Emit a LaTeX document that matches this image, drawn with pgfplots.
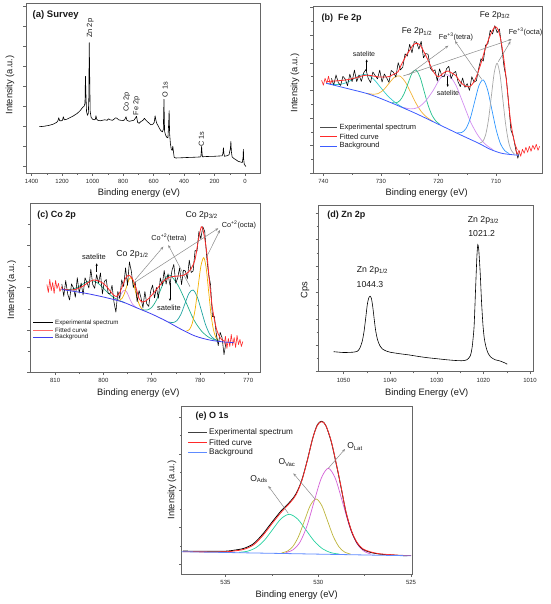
\documentclass[border=0pt]{standalone}
\usepackage{pgfplots}
\pgfplotsset{compat=1.18}
\usepackage{fontspec}
\setmainfont{Liberation Sans}
\setsansfont{Liberation Sans}
\usetikzlibrary{arrows.meta}
\definecolor{frm}{HTML}{666666}
\definecolor{fitred}{HTML}{FF2A2A}
\definecolor{bgB}{HTML}{3D5CFF}
\definecolor{cyanB}{HTML}{30CCCC}
\definecolor{orangeB}{HTML}{F2B234}
\definecolor{greenB}{HTML}{22C08C}
\definecolor{violetB}{HTML}{D28EF0}
\definecolor{blueB}{HTML}{2E96FF}
\definecolor{grayB}{HTML}{A8A8A8}
\definecolor{bgC}{HTML}{3F3FF0}
\definecolor{tealC}{HTML}{22B08E}
\definecolor{tealD}{HTML}{1FA3A0}
\definecolor{orangeC}{HTML}{F4B000}
\definecolor{violetC}{HTML}{D58FE6}
\definecolor{bgE}{HTML}{5E8BFF}
\definecolor{greenE}{HTML}{26D2A0}
\definecolor{oliveE}{HTML}{BDB43A}
\definecolor{magE}{HTML}{D45FD6}
\definecolor{arrowgray}{HTML}{8A8A8A}
\newcommand\fs[1]{\fontsize{#1}{#1}\selectfont}
\pgfplotsset{
 panel/.style={
  scale only axis, x dir=reverse, ymin=0,
  axis line style={frm,line width=0.6pt},
  tick style={frm,line width=0.45pt},
  tick pos=left, tick align=outside,
  major tick length=2.6pt, minor tick length=1.6pt,
  yticklabels={},
  tick label style={font=\fs{6}, text=black!85},
  /pgf/number format/assume math mode=true,
  /pgf/number format/1000 sep={},
 },
 comp/.style={line width=0.7pt, smooth},
}
\begin{document}
\begin{tikzpicture}
\useasboundingbox (0pt,0pt) rectangle (550pt,604pt);
% ---------------- (a) Survey ----------------
\begin{axis}[panel, at={(26pt,430.7pt)}, anchor=south west, width=234pt, height=170pt,
  xmin=-98, xmax=1437, ymax=170, xtick={0,200,...,1400}, minor x tick num=1,
  ytick={7.3,27.3,...,167.3}]
\addplot[black, line width=0.6pt, line join=round] coordinates {
(1350,46.6) (1320,47) (1290,47.8) (1260,49) (1235,51) (1228,52.5) (1222,55.5) (1216,52.5) (1205,52.5) (1198,53) (1192,56.5) (1186,53.5) (1170,54) (1150,55.5) (1125,57.5) (1100,60) (1080,63) (1065,66) (1056,67) (1050,70) (1047,97) (1044,80) (1040,62) (1034,58) (1028,60) (1025,75) (1022,130.7) (1019,95) (1016,62) (1010,56) (1000,54) (990,53.5) (982,54) (978,57.5) (973,54) (965,53) (950,52.5) (935,53) (920,53.5) (905,53) (895,54.5) (885,53.5) (870,53) (860,54) (850,55.5) (840,55) (830,53.5) (815,53) (800,52.8) (790,53.5) (781,56.5) (775,53) (760,52) (745,52.5) (730,53) (720,55) (712,57) (705,51) (695,50) (685,51.5) (670,53) (660,55) (650,53) (640,51.5) (628,50) (618,48.5) (605,49) (596,51) (590,57.5) (585,53) (578,49.5) (570,47.5) (562,45) (552,42.5) (542,41.5) (536,44) (532,74) (528,42) (522,38.5) (514,36) (506,35.5) (501,50) (498,62.6) (495,40) (490,30) (484,24) (478,23) (474,27) (470,22) (465,16) (455,15.3) (420,15.5) (380,15.8) (340,16) (300,16.3) (290,16.5) (287,22) (285,27) (283,22) (280,16.5) (250,16.8) (200,17) (170,17.3) (150,17.5) (145,20) (142,25.5) (139,20) (135,17) (120,17.5) (105,18.5) (96,25) (93,32) (90,22) (85,16.5) (75,15) (60,13.5) (45,12) (30,11.3) (18,10.8) (13,16) (11,24) (9,14) (5,9) (0,8) (-5,6.8)};
\end{axis}
% ---------------- (b) Fe 2p ----------------
\begin{axis}[panel, at={(313pt,430.7pt)}, anchor=south west, width=229pt, height=166.6pt,
  xmin=702, xmax=741.8, ymax=166.6, xtick={710,720,730,740}, minor x tick num=1,
  ytick={0,27.6,...,165.6}, minor y tick num=1]
\addplot[comp, cyanB] coordinates {(739.3,89.9) (738.15,88.9) (737.0,89.0) (735.85,91.0) (734.7,94.5) (733.55,98.1) (732.4,98.6) (731.25,94.1) (730.1,86.2) (728.95,78.3) (727.8,72.1) (726.65,67.4) (725.5,63.95)};
\addplot[comp, orangeB] coordinates {(732.4,79.9) (731.45,79.1) (730.5,79.7) (729.55,83.4) (728.6,89.85) (727.65,96.0) (726.7,97.25) (725.75,91.3) (724.8,80.5) (723.85,69.5) (722.9,61.1) (721.95,55.7) (721.0,52.05)};
\addplot[comp, greenB] coordinates {(728.1,70.7) (727.4,70.4) (726.7,72.65) (726.0,79.2) (725.3,89.65) (724.6,100.0) (723.9,103.3) (723.2,96.3) (722.5,82.3) (721.8,68.15) (721.1,57.9) (720.4,52.0) (719.7,48.7)};
\addplot[comp, violetB] coordinates {(726.1,65.85) (724.8,64.4) (723.5,65.9) (722.2,72.55) (720.9,83.0) (719.6,95.6) (718.3,98.3) (717.0,88.45) (715.7,69.95) (714.4,51.2) (713.1,37.6) (711.8,28.8) (710.5,23.6)};
\addplot[comp, blueB] coordinates {(716.7,40.6) (715.95,40.8) (715.2,44.8) (714.45,55.2) (713.7,71.75) (712.95,87.85) (712.2,93.3) (711.45,83.35) (710.7,63.25) (709.95,43.2) (709.2,29.3) (708.45,22.5) (707.7,19.7)};
\addplot[comp, grayB] coordinates {(712.8,30.4) (712.3,31.8) (711.8,38.4) (711.3,53.6) (710.8,77.2) (710.3,100.6) (709.8,110.0) (709.3,98.6) (708.8,73.45) (708.3,48.2) (707.8,31.1) (707.3,22.6) (706.8,19.4)};
\addplot[black, line width=0.55pt, line join=round] coordinates {
(738.6,95.0) (738.2,88.1) (737.8,98.3) (737.4,90.6) (737.0,87.8) (736.6,97.0) (736.2,94.2) (735.8,87.6) (735.4,99.1) (735.0,91.6) (734.6,103.2) (734.2,91.7) (733.8,98.3) (733.4,91.9) (733.0,100.5) (732.6,103.8) (732.2,94.9) (731.8,90.7) (731.4,101.3) (731.0,97.8) (730.6,94.4) (730.2,103.1) (729.8,91.2) (729.4,99.3) (729.0,95.4) (728.6,91.0) (728.2,102.8) (727.8,101.0) (727.4,96.2) (727.0,110.6) (726.6,103.4) (726.2,106.1) (725.8,119.4) (725.4,117.2) (725.0,129.0) (724.6,120.5) (724.2,131.6) (723.8,131.0) (723.4,124.1) (723.0,132.0) (722.6,115.4) (722.2,119.8) (721.8,119.0) (721.4,105.0) (721.0,102.0) (720.6,103.5) (720.2,92.3) (719.8,104.4) (719.4,97.1) (719.0,96.5) (718.6,104.5) (718.2,107.0) (717.8,94.6) (717.4,100.2) (717.0,101.8) (716.6,91.7) (716.2,86.6) (715.8,95.3) (715.4,86.0) (715.0,89.6) (714.6,82.9) (714.2,96.6) (713.8,91.2) (713.4,92.6) (713.0,105.0) (712.6,114.6) (712.2,112.2) (711.8,128.2) (711.4,129.6) (711.0,143.0) (710.6,139.3) (710.2,147.6) (709.8,140.6) (709.4,144.3) (709.0,126.3) (708.6,106.6) (708.2,94.6) (707.8,70) (707.4,43.2) (707.0,37) (706.6,25) (706.2,15) (705.9,22)};
\addplot[fitred, line width=0.6pt, line join=round] coordinates {(740.3,93) (740.0,88) (739.7,95) (739.4,90) (739.1,97) (738.8,89) (738.5,93)};
\addplot[fitred, line width=0.6pt, line join=round] coordinates {(706.6,24) (706.3,19) (706.0,23) (705.7,17) (705.4,24) (705.1,20) (704.8,26) (704.5,21) (704.2,27) (703.9,22) (703.6,28) (703.3,24) (703.0,29) (702.7,23) (702.4,27)};
\addplot[fitred, line width=0.8pt, smooth] coordinates {(739.3,91.8) (738.5,92.1) (737.5,92.5) (736.5,93.1) (735.5,93.9) (734.5,95.3) (733.5,97) (732.5,98.1) (731.5,97.5) (730.5,96.4) (729.5,96.2) (728.5,96.8) (727.8,99) (727,101.6) (726.5,108) (726,113.5) (725.5,119) (725,123) (724.4,128.3) (723.8,130) (723.2,128.3) (722.6,122.4) (722,115.5) (721.4,108) (721,103) (720.5,98.5) (720,96.6) (719.6,97.8) (719.2,100) (718.7,101.8) (718.3,102.3) (717.7,100.3) (717,97.8) (716.5,93.8) (716,90) (715.5,87.8) (715,86.6) (714.6,86.6) (714.2,88.5) (713.8,91.8) (713.4,96.8) (713,103) (712.5,112) (712,122) (711.5,130.5) (711,138) (710.6,142.8) (710.2,146.6) (709.9,146) (709.6,143.3) (709.3,137) (709,128.3) (708.7,117) (708.4,103.3) (708.1,88) (707.8,70) (707.5,54) (707.2,43) (706.9,34) (706.6,27.5) (706.3,23.5)};
\addplot[bgB, line width=0.8pt, smooth] coordinates {(739.5,90) (736,85) (732,79) (728,70) (724,60) (720,49) (716,38) (713,30) (711,24) (709,20) (707,18.5) (706,18)};
\end{axis}
% ---------------- (c) Co 2p ----------------
\begin{axis}[panel, at={(30pt,231.5pt)}, anchor=south west, width=230.7pt, height=169.2pt,
  xmin=767.4, xmax=815.2, ymax=169.2, xtick={770,780,...,810}, minor x tick num=1,
  ytick={0,42.4,...,169}, minor y tick num=1]
\addplot[comp, tealC] coordinates {(808.7,83.3) (807.6,82.9) (806.5,83.3) (805.4,85.1) (804.3,88.2) (803.2,91.1) (802.1,91.6) (801.0,88.9) (799.9,83.9) (798.8,78.5) (797.7,74.5) (796.6,71.85) (795.5,69.7)};
\addplot[comp, violetC] coordinates {(797.9,73.0) (797.5,73.0) (797.1,73.6) (796.7,75.6) (796.3,78.7) (795.9,81.6) (795.5,82.3) (795.1,80.0) (794.7,75.7) (794.3,71.3) (793.9,68.0) (793.5,66.1) (793.1,64.8)};
\addplot[comp, orangeC] coordinates {(797.0,72.1) (796.55,72.4) (796.1,74.35) (795.65,78.8) (795.2,85.7) (794.75,92.4) (794.3,94.8) (793.85,90.6) (793.4,82.1) (792.95,73.4) (792.5,67.25) (792.05,63.8) (791.6,62.0)};
\addplot[comp, tealC] coordinates {(791.9,62.8) (790.95,62.5) (790.0,65.0) (789.05,71.9) (788.1,83.2) (787.15,94.25) (786.2,97.4) (784.55,87.4) (782.9,70.4) (781.25,52.7) (779.6,41.1) (777.95,34.6) (776.3,31.9)};
\addplot[comp, tealD] coordinates {(786.5,50.6) (785.65,49.9) (784.8,51.7) (783.95,58.0) (783.1,68.75) (782.25,79.2) (781.4,82.5) (780.55,75.7) (779.7,62.15) (778.85,48.2) (778.0,38.6) (777.15,33.9) (776.3,31.9)};
\addplot[comp, orangeC] coordinates {(782.8,41.6) (782.2,42.8) (781.6,48.8) (781.0,62.7) (780.4,84.6) (779.8,106.1) (779.2,114.8) (778.7,104.6) (778.2,81.7) (777.7,58.5) (777.2,42.9) (776.7,35.1) (776.2,32.2)};
\addplot[black, line width=0.55pt, line join=round] coordinates {
(808.6,88.5) (808.2,76.2) (807.8,92.0) (807.4,78.7) (807.0,72.5) (806.6,88.6) (806.2,84.7) (805.8,75.2) (805.4,94.8) (805.0,79.5) (804.6,89.5) (804.2,77.5) (803.8,94.7) (803.4,90.1) (803.0,84.5) (802.6,103.3) (802.2,88.1) (801.8,84.2) (801.4,97.9) (801.0,89.5) (800.6,99.5) (800.2,78.5) (799.8,91) (799.4,93) (799.0,79) (798.6,78.6) (798.2,87.2) (797.8,70.4) (797.4,60.3) (797.0,81.1) (796.6,74) (796.2,92.7) (795.8,86) (795.4,104.7) (795.0,87.2) (794.6,110.7) (794.2,101.1) (793.8,85) (793.4,90.7) (793.0,70.7) (792.6,82) (792.2,74.7) (791.8,64.7) (791.4,81) (791.0,68.6) (790.6,66.1) (790.2,81.3) (789.8,87.4) (789.4,74.6) (789.0,85) (788.6,74.2) (788.2,94.6) (787.8,86.9) (787.4,102.1) (787.0,88.3) (786.6,98.7) (786.2,87.3) (785.8,101.7) (785.4,108.1) (785.0,89.3) (784.6,94.5) (784.2,104.7) (783.8,87.9) (783.4,102.3) (783.0,101.5) (782.6,93.6) (782.2,112.3) (781.8,100) (781.4,101.5) (781.0,122) (780.6,121.3) (780.2,141) (779.8,133.7) (779.4,145.8) (779.0,141) (778.6,116) (778.2,98.3) (777.8,88.2) (777.4,56) (777.0,56) (776.6,38.6) (776.2,26.9) (775.8,40.1) (775.4,34.7) (775.0,18) (774.6,30)};
\addplot[fitred, line width=0.6pt, line join=round] coordinates {(811.7,88) (811.4,80) (811.1,93) (810.8,82) (810.5,90) (810.2,79) (809.9,92) (809.6,84) (809.3,89) (809.0,81) (808.6,86)};
\addplot[fitred, line width=0.6pt, line join=round] coordinates {(775.0,28) (774.7,36) (774.4,24) (774.1,34) (773.8,26) (773.5,38) (773.2,27) (772.9,35) (772.6,25) (772.3,37) (772.0,28) (771.7,33) (771.4,26) (771.1,31)};
\addplot[fitred, line width=0.8pt, smooth] coordinates {(808.6,83.5) (807,82.5) (806,82.8) (805,84.5) (804,87) (803,90.5) (802,92.5) (801,91.5) (800,89) (799,84) (798,78) (797.3,76) (796.6,80) (796,87) (795.2,96) (794.5,96.8) (793.8,92) (793.2,84) (792.6,74) (792,70.5) (791.4,71) (790.5,74.5) (789.5,80) (788.5,86) (787.5,91.5) (786.5,95) (785.5,96) (784.5,96.5) (783.5,97) (782.5,100) (781.8,104) (781,113) (780.4,130) (779.7,145.8) (779.2,139) (778.6,121) (778,90) (777.5,68) (777,53) (776.5,42.5) (776,36.5) (775.5,33) (775,31.5)};
\addplot[bgC, line width=0.8pt, smooth] coordinates {(808.6,83) (804,79.5) (800,75.5) (796,70.5) (793,64.5) (790,58.5) (787,51.5) (784,43.5) (781,36.5) (778,32.5) (775,30.5) (773,30)};
\end{axis}
% ---------------- (d) Zn 2p ----------------
\begin{axis}[panel, at={(318.3pt,232.3pt)}, anchor=south west, width=215pt, height=166.7pt,
  xmin=1009.3, xmax=1055.4, ymax=166.7, xtick={1010,1020,...,1050}, minor x tick num=1,
  ytick={0,26.4,...,160}, minor y tick num=1]
\addplot[black, line width=0.6pt, smooth, tension=0.4] coordinates {
(1052.1,20) (1050,19.2) (1048,19.5) (1047,20.5) (1046.5,23.5) (1046,30) (1045.6,40) (1045.2,55) (1044.9,67) (1044.6,73.5) (1044.3,75.5) (1044.0,73) (1043.7,64) (1043.4,52) (1043.1,41) (1042.7,32) (1042.2,26) (1041.6,22.5) (1041,21) (1040,19.5) (1038,18) (1036,16.8) (1034,15.3) (1032,14) (1030,13) (1028,12) (1026,11.2) (1024.5,11) (1023.5,12) (1022.8,16) (1022.4,25) (1022.0,45) (1021.7,80) (1021.4,115) (1021.2,127) (1021.0,122) (1020.7,100) (1020.4,70) (1020.1,47) (1019.8,33) (1019.4,24) (1019.0,18.5) (1018.4,14.5) (1017.5,12) (1016.5,10.8) (1015.5,9) (1014.9,7.5)};
\end{axis}
% ---------------- (e) O 1s ----------------
\begin{axis}[panel, at={(181.7pt,29.7pt)}, anchor=south west, width=230.3pt, height=168.3pt,
  xmin=524.95, xmax=537.36, ymax=168.3, xtick={525,530,535}, minor x tick num=1,
  ytick={10,46.8,...,160}, minor y tick num=1]
\addplot[comp, greenE] coordinates {(534.26,22.0) (533.81,23.1) (533.36,26.6) (532.91,33.9) (532.46,44.8) (532.01,55.5) (531.56,60.0) (531.11,55.2) (530.66,44.2) (530.21,33.0) (529.76,25.4) (529.31,21.6) (528.86,20.2)};
\addplot[comp, oliveE] coordinates {(531.98,21.4) (531.67,23.1) (531.36,28.1) (531.05,38.4) (530.74,53.8) (530.43,68.9) (530.12,75.3) (529.81,68.7) (529.5,53.4) (529.19,37.8) (528.88,27.3) (528.57,22.1) (528.26,20.2)};
\addplot[comp, magE] coordinates {(531.76,21.7) (531.37,24.4) (530.99,32.1) (530.61,48.3) (530.23,72.4) (529.84,96.0) (529.46,106.0) (529.08,95.8) (528.69,71.9) (528.31,47.5) (527.93,31.1) (527.54,23.2) (527.16,20.2)};
\addplot[black, line width=0.8pt, smooth] coordinates {(537.3,23.2) (536,23) (535,23.1) (534.5,24.2) (534,26) (533.5,30.5) (533,40) (532.5,52) (532,63.5) (531.5,73) (531.2,80.5) (530.9,93.5) (530.6,113.5) (530.3,136) (530.05,149.5) (529.82,153) (529.6,149) (529.3,132.5) (529.0,107.5) (528.8,89.5) (528.5,61.5) (528.2,42.5) (527.9,31) (527.6,25) (527.2,22) (526.7,20.2) (526,19.3) (525.6,18.8) (525.2,18.6)};
\addplot[fitred, line width=0.8pt, smooth] coordinates {(537.3,22.6) (536,22.4) (535,22.5) (534.5,23.4) (534,25) (533.5,29.3) (533,38.5) (532.5,50.5) (532,62) (531.5,72) (531.2,79.5) (530.9,93) (530.6,113) (530.3,136) (530.05,149) (529.82,152.6) (529.6,149) (529.3,133) (529.0,108) (528.8,90) (528.5,62) (528.2,43) (527.9,31.5) (527.6,25.5) (527.2,22.5) (526.7,20.5) (526,19.5) (525.6,19) (525.0,18.7)};
\addplot[bgE, line width=0.8pt] coordinates {(537.36,22.6) (531,20.5) (525,18.5)};
\end{axis}
% ---------------- annotations (image coordinates) ----------------
\begin{scope}[x=1pt,y=-1pt,shift={(0pt,604pt)}]
\tikzset{ann/.style={inner sep=0.5pt, text=black!90}, ga/.style={arrowgray, line width=0.5pt, -{Stealth[length=3.2pt,width=2.6pt]}}, ba/.style={black, line width=0.5pt, -{Stealth[length=2.6pt,width=2.2pt]}}}
% (a)
\node[ann, anchor=west, font=\bfseries\fs{9.5}] at (32,15) {(a) Survey};
\node[ann, rotate=90, font=\fs{7.5}] at (90.2,28.3) {Zn 2p};
\node[ann, rotate=90, font=\fs{7.3}] at (126.8,102) {Co 2p};
\node[ann, rotate=90, font=\fs{7.3}] at (136.5,106) {Fe 2p};
\node[ann, rotate=90, font=\fs{7.3}] at (165,90) {O 1s};
\node[ann, rotate=90, font=\fs{7.3}] at (201.3,139) {C 1s};
\node[ann, font=\fs{9.3}] at (139,193.3) {Binding energy (eV)};
\node[ann, rotate=90, font=\fs{9.3}] at (10,85) {Intensity (a.u.)};
% (b)
\node[ann, anchor=west, font=\bfseries\fs{9}] at (321,18.3) {(b)~~Fe 2p};
\node[ann, font=\fs{7}] at (364,54) {satelite};
\draw[ba] (366.7,71.5) -- (366.7,59.5);
\node[ann, font=\fs{8.5}] at (417,31.7) {Fe 2p\textsubscript{1/2}};
\node[ann, font=\fs{7.3}] at (456,36.7) {Fe\textsuperscript{+3}(tetra)};
\node[ann, font=\fs{8.5}] at (495,15) {Fe 2p\textsubscript{3/2}};
\node[ann, font=\fs{7.3}] at (525.5,32) {Fe\textsuperscript{+3}(octa)};
\node[ann, font=\fs{7}] at (448,92.7) {satelite};
\draw[ba] (447.7,76) -- (447.7,87);
\draw[ga] (408.3,75) -- (448.3,45.7);
\draw[ga] (481.7,79.3) -- (455,41);
\draw[ga] (403.3,76) -- (511.7,39.3);
\draw[ga] (498.3,61.7) -- (510.5,41.5);
\draw[black!70, line width=0.8pt] (320,127.7) -- (337,127.7);
\draw[fitred, line width=0.8pt] (320,136.7) -- (337,136.7);
\draw[bgB, line width=0.8pt] (320,146) -- (337,146);
\node[ann, anchor=west, font=\fs{7.5}] at (338.8,127.7) {Experimental spectrum};
\node[ann, anchor=west, font=\fs{7.5}] at (338.8,136.7) {Fitted curve};
\node[ann, anchor=west, font=\fs{7.5}] at (338.8,146) {Background};
\node[ann, font=\fs{9.3}] at (426.7,193.3) {Binding energy (eV)};
\node[ann, rotate=90, font=\fs{9.3}] at (295,83) {Intensity (a.u.)};
% (c)
\node[ann, anchor=west, font=\bfseries\fs{9}] at (36.7,215) {(c) Co 2p};
\node[ann, font=\fs{8.7}] at (201.7,215) {Co 2p\textsubscript{3/2}};
\node[ann, font=\fs{7.3}] at (239,225) {Co\textsuperscript{+2}(octa)};
\node[ann, font=\fs{7.3}] at (169,238.3) {Co\textsuperscript{+2}(tetra)};
\node[ann, font=\fs{8.7}] at (132.5,254.3) {Co 2p\textsubscript{1/2}};
\node[ann, font=\fs{7.5}] at (94,256.7) {satelite};
\draw[ba] (96.7,271.7) -- (96.7,263.3);
\node[ann, font=\fs{7.5}] at (169,308.3) {satelite};
\draw[ba] (170,283.3) -- (170,301);
\draw[ga] (135,280) -- (163.3,246.7);
\draw[ga] (190,286.7) -- (168.3,245);
\draw[ga] (133.3,283.3) -- (218.3,228.3);
\draw[ga] (206.7,256.7) -- (220,230);
\draw[black, line width=0.7pt] (33.3,322.7) -- (53.3,322.7);
\draw[fitred!70, line width=0.7pt] (33.3,330) -- (53.3,330);
\draw[bgC, line width=0.7pt] (33.3,337.3) -- (53.3,337.3);
\node[ann, anchor=west, font=\fs{6.2}] at (54.5,322.7) {Experimental spectrum};
\node[ann, anchor=west, font=\fs{6.2}] at (54.5,330) {Fitted curve};
\node[ann, anchor=west, font=\fs{6.2}] at (54.5,337.3) {Background};
\node[ann, font=\fs{9.3}] at (138.3,392.7) {Binding energy (eV)};
\node[ann, rotate=90, font=\fs{9.3}] at (11.7,290) {Intensity (a.u.)};
% (d)
\node[ann, anchor=west, font=\bfseries\fs{9}] at (326.7,215) {(d) Zn 2p};
\node[ann, font=\fs{8.7}] at (483.5,220) {Zn 2p\textsubscript{3/2}};
\node[ann, font=\fs{8.7}] at (481.7,233.3) {1021.2};
\node[ann, font=\fs{8.7}] at (372.5,270) {Zn 2p\textsubscript{1/2}};
\node[ann, font=\fs{8.7}] at (370,285) {1044.3};
\node[ann, rotate=90, font=\fs{9.3}] at (305,290) {Cps};
\node[ann, font=\fs{9.3}] at (426.7,393.3) {Binding Energy (eV)};
% (e)
\node[ann, anchor=west, font=\bfseries\fs{9}] at (195,416) {(e) O 1s};
\draw[black!75, line width=0.8pt] (188.3,432.3) -- (206.7,432.3);
\draw[fitred, line width=0.8pt] (188.3,442.3) -- (206.7,442.3);
\draw[bgE, line width=0.8pt] (188.3,452.3) -- (206.7,452.3);
\node[ann, anchor=west, font=\fs{8.2}] at (208.5,432.3) {Experimental spectrum};
\node[ann, anchor=west, font=\fs{8.2}] at (208.5,442.3) {Fitted curve};
\node[ann, anchor=west, font=\fs{8.2}] at (208.5,452.3) {Background};
\node[ann, font=\fs{8.5}] at (355,446.7) {O\textsubscript{Lat}};
\draw[ga] (328.3,468.3) -- (345,449);
\node[ann, font=\fs{8.5}] at (287,462.7) {O\textsubscript{Vac}};
\draw[ga] (315,499) -- (293.3,473.3);
\node[ann, font=\fs{8.5}] at (259,479) {O\textsubscript{Ads}};
\draw[ga] (288.3,513.3) -- (268.3,486);
\node[ann, rotate=90, font=\fs{9.3}] at (172,490) {Intensity (a.u.)};
\node[ann, font=\fs{9.3}] at (296.7,595) {Binding energy (eV)};
\end{scope}
\end{tikzpicture}
\end{document}
